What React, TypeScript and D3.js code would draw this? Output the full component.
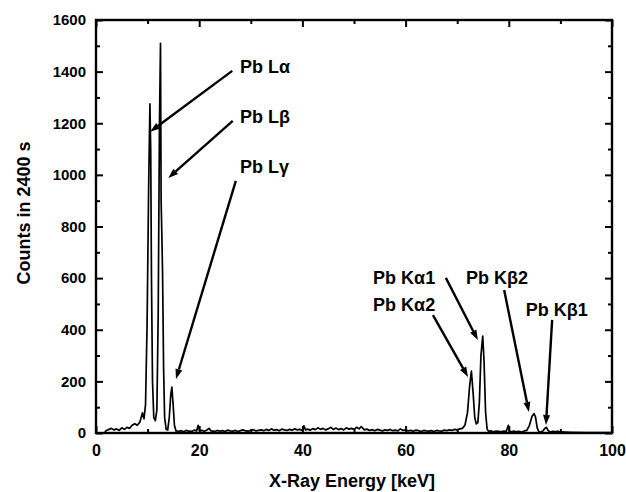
import React, { useEffect, useRef } from 'react';
import * as d3 from 'd3';

const W = 626;
const H = 492;
const margin = { top: 20, right: 14, bottom: 59, left: 96 };

// measured spectrum, [energy keV, counts]
const spectrum: [number, number][] = [
  [1.7, 3], [2.0, 10], [2.5, 14], [3.0, 18], [3.5, 12], [4.0, 16], [4.5, 10], [5.0, 20],
  [5.5, 14], [6.0, 22], [6.5, 18], [7.0, 30], [7.5, 36], [8.0, 30], [8.5, 42], [9.0, 78],
  [9.3, 55], [9.6, 110], [9.9, 420], [10.2, 950], [10.45, 1275], [10.6, 1100], [10.75, 600],
  [10.95, 200], [11.2, 60], [11.5, 48], [11.8, 90], [12.05, 450], [12.3, 1200], [12.5, 1510],
  [12.62, 900], [12.75, 780], [12.9, 620], [13.1, 250], [13.3, 60], [13.6, 14], [13.9, 12],
  [14.2, 60], [14.5, 150], [14.7, 178], [14.95, 110], [15.2, 30], [15.5, 8], [16, 6],
  [16.5, 9], [17, 5], [17.5, 10], [18, 7], [18.5, 6], [19, 11], [19.5, 8], [19.8, 30],
  [20.1, 8], [20.5, 10], [21, 7], [21.5, 12], [21.9, 18], [22.3, 8], [23, 6], [23.5, 10],
  [24, 7], [24.5, 9], [25, 6], [25.5, 11], [26, 8], [26.5, 7], [27, 10], [27.5, 6], [28, 9],
  [28.5, 12], [29, 8], [29.5, 7], [30, 10], [30.5, 13], [31, 8], [31.5, 10], [32, 12],
  [32.5, 9], [33, 14], [33.5, 10], [34, 16], [34.5, 11], [35, 13], [35.5, 9], [36, 15],
  [36.5, 12], [37, 10], [37.5, 14], [38, 11], [38.5, 16], [39, 12], [39.5, 14], [40, 10],
  [40.3, 28], [40.6, 12], [41, 15], [41.5, 11], [42, 17], [42.5, 13], [43, 20], [43.5, 14],
  [44, 18], [44.5, 12], [45, 16], [45.5, 22], [46, 14], [46.5, 19], [47, 13], [47.5, 17],
  [48, 12], [48.5, 20], [49, 15], [49.5, 18], [50, 14], [50.5, 22], [51, 16], [51.4, 25],
  [52, 12], [52.5, 15], [53, 10], [53.5, 13], [54, 9], [54.5, 14], [55, 11], [55.5, 8],
  [56, 12], [56.5, 10], [57, 14], [57.5, 9], [58, 11], [58.5, 8], [59, 16], [59.5, 10],
  [60, 12], [60.5, 8], [61, 10], [61.5, 7], [62, 11], [62.5, 9], [63, 6], [63.5, 10],
  [64, 8], [64.5, 7], [65, 9], [65.5, 6], [66, 10], [66.5, 8], [67, 7], [67.5, 11], [68, 9],
  [68.5, 12], [69, 10], [69.5, 14], [70, 12], [70.5, 16], [71, 18], [71.5, 30], [72, 80],
  [72.4, 180], [72.75, 240], [73.1, 150], [73.4, 60], [73.7, 35], [74.0, 40], [74.3, 120],
  [74.6, 300], [74.95, 375], [75.2, 280], [75.5, 80], [75.8, 15], [76.1, 6], [76.5, 8],
  [77, 5], [77.5, 7], [78, 6], [78.5, 5], [79, 7], [79.5, 6], [79.9, 30], [80.1, 8],
  [80.5, 5], [81, 7], [81.5, 5], [82, 6], [82.5, 4], [83, 8], [83.5, 10], [84, 30],
  [84.5, 65], [84.9, 75], [85.2, 60], [85.5, 20], [85.8, 6], [86.2, 4], [86.6, 8],
  [87.0, 18], [87.3, 22], [87.6, 10], [88, 4], [88.5, 6], [89, 5], [89.5, 7], [90, 4],
  [92, 3], [95, 2], [100, 2]
];

const xMajor = [0, 20, 40, 60, 80, 100];
const xMinor = [10, 30, 50, 70, 90];
const yMajor = [0, 200, 400, 600, 800, 1000, 1200, 1400, 1600];
const yMinor = [100, 300, 500, 700, 900, 1100, 1300, 1500];

// label text, label anchor (data), arrow start and tip (data)
const labels = [
  { text: 'Pb Lα', at: [27.9, 1420], from: [26.4, 1403], to: [10.5, 1167] },
  { text: 'Pb Lβ', at: [27.9, 1225], from: [26.5, 1209], to: [14.0, 988] },
  { text: 'Pb Lγ', at: [27.9, 1030], from: [27.1, 977], to: [15.5, 209] },
  { text: 'Pb Kα1', at: [53.7, 601], from: [67.8, 601], to: [74.0, 360] },
  { text: 'Pb Kα2', at: [53.7, 496], from: [65.3, 457], to: [72.1, 217] },
  { text: 'Pb Kβ2', at: [71.7, 601], from: [79.1, 554], to: [83.9, 81] },
  { text: 'Pb Kβ1', at: [83.3, 477], from: [88.4, 438], to: [87.2, 31] }
];

export default function App() {
  const svgRef = useRef<SVGSVGElement>(null);

  useEffect(() => {
    const svg = d3.select(svgRef.current);
    svg.selectAll('*').remove();

    const iw = W - margin.left - margin.right;
    const ih = H - margin.top - margin.bottom;
    const x = d3.scaleLinear().domain([0, 100]).range([0, iw]);
    const y = d3.scaleLinear().domain([0, 1600]).range([ih, 0]);

    const g = svg.append('g').attr('transform', `translate(${margin.left},${margin.top})`);
    const font = 'Arial, "Liberation Sans", sans-serif';

    // spectrum
    const line = d3.line<[number, number]>().x(d => x(d[0])).y(d => y(d[1]));
    g.append('path')
      .datum(spectrum)
      .attr('d', line)
      .attr('fill', 'none')
      .attr('stroke', '#000')
      .attr('stroke-width', 1.7)
      .attr('stroke-linejoin', 'round');

    // frame
    g.append('rect')
      .attr('width', iw).attr('height', ih)
      .attr('fill', 'none').attr('stroke', '#000').attr('stroke-width', 2.4);

    const drawAxis = (axis: any, tr: string, size: number) => {
      const a = g.append('g').attr('transform', tr).call(axis);
      a.select('.domain').remove();
      a.selectAll('line').attr('stroke', '#000').attr('stroke-width', 2);
      if (!size) a.selectAll('text').remove();
      else a.selectAll('text')
        .attr('font-family', font).attr('font-weight', 'bold')
        .attr('font-size', size).attr('fill', '#000');
      return a;
    };

    drawAxis(d3.axisBottom(x).tickValues(xMajor).tickSizeInner(-7).tickPadding(12).tickFormat(d3.format('d')), `translate(0,${ih})`, 16);
    drawAxis(d3.axisBottom(x).tickValues(xMinor).tickSizeInner(-4).tickFormat(() => ''), `translate(0,${ih})`, 0);
    drawAxis(d3.axisTop(x).tickValues(xMajor).tickSizeInner(-7).tickFormat(() => ''), 'translate(0,0)', 0);
    drawAxis(d3.axisTop(x).tickValues(xMinor).tickSizeInner(-4).tickFormat(() => ''), 'translate(0,0)', 0);
    drawAxis(d3.axisLeft(y).tickValues(yMajor).tickSizeInner(-7).tickPadding(10).tickFormat(d3.format('d')), 'translate(0,0)', 15);
    drawAxis(d3.axisLeft(y).tickValues(yMinor).tickSizeInner(-4).tickFormat(() => ''), 'translate(0,0)', 0);
    drawAxis(d3.axisRight(y).tickValues(yMajor).tickSizeInner(-7).tickFormat(() => ''), `translate(${iw},0)`, 0);
    drawAxis(d3.axisRight(y).tickValues(yMinor).tickSizeInner(-4).tickFormat(() => ''), `translate(${iw},0)`, 0);

    // axis titles
    svg.append('text')
      .attr('x', 352).attr('y', 487)
      .attr('text-anchor', 'middle')
      .attr('font-family', font).attr('font-weight', 'bold').attr('font-size', 18)
      .text('X-Ray Energy [keV]');
    svg.append('text')
      .attr('transform', 'translate(30,213) rotate(-90)')
      .attr('text-anchor', 'middle')
      .attr('font-family', font).attr('font-weight', 'bold').attr('font-size', 18)
      .text('Counts in 2400 s');

    // annotations with arrows
    labels.forEach(l => {
      g.append('text')
        .attr('x', x(l.at[0])).attr('y', y(l.at[1]))
        .attr('dy', '0.35em')
        .attr('font-family', font).attr('font-weight', 'bold').attr('font-size', 18)
        .text(l.text);
      const x1 = x(l.from[0]), y1 = y(l.from[1]);
      const x2 = x(l.to[0]), y2 = y(l.to[1]);
      const ang = Math.atan2(y2 - y1, x2 - x1);
      const len = 10, half = 3.5;
      const bx = x2 - len * Math.cos(ang), by = y2 - len * Math.sin(ang);
      g.append('line')
        .attr('x1', x1).attr('y1', y1).attr('x2', bx).attr('y2', by)
        .attr('stroke', '#000').attr('stroke-width', 2.4);
      const px = -Math.sin(ang) * half, py = Math.cos(ang) * half;
      g.append('path')
        .attr('d', `M${x2},${y2}L${bx + px},${by + py}L${bx - px},${by - py}Z`)
        .attr('fill', '#000');
    });
  }, []);

  return (
    <svg
      ref={svgRef}
      width={W}
      height={H}
      style={{ position: 'absolute', left: 0, top: 0, background: '#fff' }}
    />
  );
}
